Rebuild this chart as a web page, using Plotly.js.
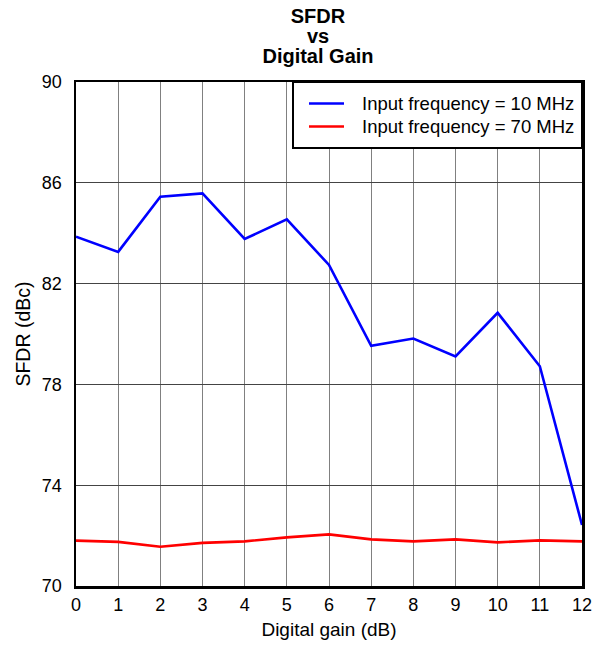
<!DOCTYPE html>
<html>
<head>
<meta charset="utf-8">
<script src="https://cdn.plot.ly/plotly-3.0.1.min.js"></script>
<style>html,body{margin:0;padding:0;background:#fff;}#chart{width:610px;height:646px;}</style>
</head>
<body>
<div id="chart"></div>
<script>
const gain = [0, 1, 2, 3, 4, 5, 6, 7, 8, 9, 10, 11, 12];
const sfdr10MHz = [83.86, 83.26, 85.45, 85.58, 83.77, 84.55, 82.74, 79.53, 79.82, 79.11, 80.84, 78.72, 72.42];
const sfdr70MHz = [71.80, 71.75, 71.56, 71.71, 71.77, 71.93, 72.05, 71.85, 71.77, 71.85, 71.73, 71.81, 71.77];
const seriesNames = ["Input frequency = 10 MHz", "Input frequency = 70 MHz"];
const seriesColors = ["#0000ff", "#ff0000"];
const yTicks = [70, 74, 78, 82, 86, 90];
const titleLines = ["SFDR", "vs", "Digital Gain"];

const font = "Liberation Sans, Arial, sans-serif";
const W = 610, H = 646;
const M = {l: 76, r: 28, t: 82, b: 60};
const plotH = H - M.t - M.b;
const plotW = W - M.l - M.r;
const py = p => 1 + (M.t - p) / plotH;   // pixel row -> paper y
const px = p => (p - M.l) / plotW;       // pixel col -> paper x
const legendRows = [103.5, 126.5];

const traces = [sfdr10MHz, sfdr70MHz].map((vals, i) => ({
  x: gain, y: vals, name: seriesNames[i], mode: "lines",
  line: {color: seriesColors[i], width: 2.6}, showlegend: false
}));

const titleText = "<b>" + titleLines.map(t => "<span style='font-size:20px'>" + t + "</span>").join("<br>") + "</b>";

const annotations = seriesNames.map((n, i) => ({
  text: n, xref: "paper", yref: "paper",
  x: px(360), y: py(legendRows[i]), xanchor: "left", yanchor: "middle",
  showarrow: false, font: {family: font, size: 18.5, color: "#000"}
}));

const shapes = [{
  type: "rect", xref: "paper", yref: "paper", layer: "above",
  x0: px(293), x1: 1, y0: py(148), y1: 1,
  line: {color: "#000", width: 2}, fillcolor: "#fff"
}];
seriesColors.forEach((c, i) => shapes.push({
  type: "line", xref: "paper", yref: "paper", layer: "above",
  x0: px(309), x1: px(344), y0: py(legendRows[i]), y1: py(legendRows[i]),
  line: {color: c, width: 2.6}
}));

const layout = {
  width: W, height: H,
  margin: M,
  paper_bgcolor: "#fff", plot_bgcolor: "#fff",
  font: {family: font, color: "#000", size: 18},
  title: {
    text: titleText, xref: "paper", x: px(318), xanchor: "center",
    yref: "container", y: 1 - 22.5 / H, yanchor: "top",
    font: {family: font, size: 15.4, color: "#000"}
  },
  annotations: annotations,
  shapes: shapes,
  showlegend: false,
  xaxis: {
    range: [0, 12], tickvals: gain, ticks: "", showgrid: true, gridcolor: "#808080", gridwidth: 1,
    showline: true, linecolor: "#000", linewidth: 2.5, mirror: true, zeroline: false,
    title: {text: "Digital gain (dB)", font: {size: 19}, standoff: 9},
    tickfont: {size: 18}, ticklabelstandoff: 1
  },
  yaxis: {
    range: [70, 90], tickvals: yTicks, ticks: "", showgrid: true, gridcolor: "#444", gridwidth: 1,
    showline: true, linecolor: "#000", linewidth: 2.5, mirror: true, zeroline: false,
    title: {text: "SFDR (dBc)", font: {size: 19.5}, standoff: 6},
    tickfont: {size: 18}, ticklabelstandoff: 8
  }
};
Plotly.newPlot("chart", traces, layout, {displayModeBar: false, staticPlot: true});
</script>
</body>
</html>
